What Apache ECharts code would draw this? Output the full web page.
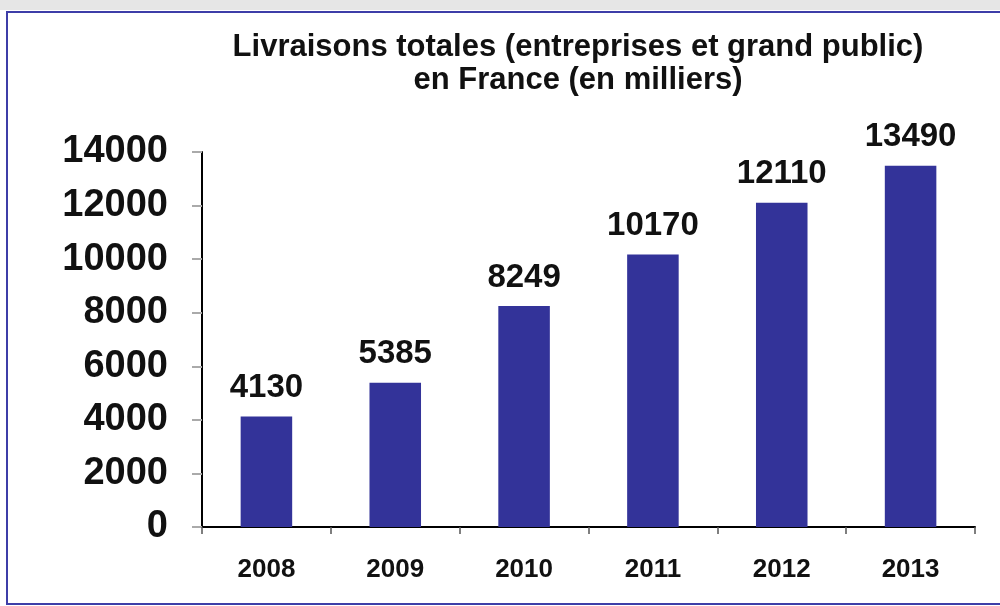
<!DOCTYPE html>
<html><head><meta charset="utf-8">
<script src="https://cdn.jsdelivr.net/npm/echarts@6/dist/echarts.min.js"></script>
<style>html,body{margin:0;padding:0;background:#fff}#c{width:1000px;height:606px}</style>
</head><body><div id="c"></div>
<script>
var titleLines = ['Livraisons totales (entreprises et grand public)', 'en France (en milliers)'];
var categories = ['2008', '2009', '2010', '2011', '2012', '2013'];
var values = [4130, 5385, 8249, 10170, 12110, 13490];
var yMin = 0, yMax = 14000, yStep = 2000;

var chart = echarts.init(document.getElementById('c'), null, {renderer: 'canvas'});
chart.setOption({
  backgroundColor: '#ffffff',
  animation: false,
  graphic: [
    {type: 'rect', shape: {x: 0, y: 0, width: 1000, height: 10}, style: {fill: '#e6e6e6'}, silent: true},
    {type: 'rect', shape: {x: 7, y: 12, width: 1000, height: 592}, style: {fill: null, stroke: '#3e3ea8', lineWidth: 2}, silent: true}
  ],
  title: {
    text: titleLines.join('\n'),
    left: 573, top: 26, textAlign: 'center',
    textStyle: {fontFamily: 'Liberation Sans, Arial, sans-serif', fontWeight: 'bold', fontSize: 31, lineHeight: 33, color: '#111'}
  },
  grid: {left: 202, right: 25, top: 152, bottom: 79, containLabel: false},
  xAxis: {
    type: 'category', data: categories,
    axisLine: {show: true, lineStyle: {color: '#000', width: 2}},
    axisTick: {show: true, length: 7, lineStyle: {color: '#555', width: 1.5}},
    axisLabel: {margin: 30, fontFamily: 'Liberation Sans, Arial, sans-serif', fontWeight: 'bold', fontSize: 26, color: '#111'}
  },
  yAxis: {
    type: 'value', min: yMin, max: yMax, interval: yStep,
    splitLine: {show: false},
    axisLine: {show: true, lineStyle: {color: '#000', width: 2}},
    axisTick: {show: true, length: 10, lineStyle: {color: '#aaa', width: 2}},
    axisLabel: {margin: 34, formatter: function (v) { return String(v); }, fontFamily: 'Liberation Sans, Arial, sans-serif', fontWeight: 'bold', fontSize: 38, color: '#111'}
  },
  series: [{
    type: 'bar', data: values, barWidth: '40%',
    itemStyle: {color: '#333399'},
    label: {show: true, position: 'top', distance: 12, fontFamily: 'Liberation Sans, Arial, sans-serif', fontWeight: 'bold', fontSize: 33, color: '#111'}
  }]
});
</script></body></html>
